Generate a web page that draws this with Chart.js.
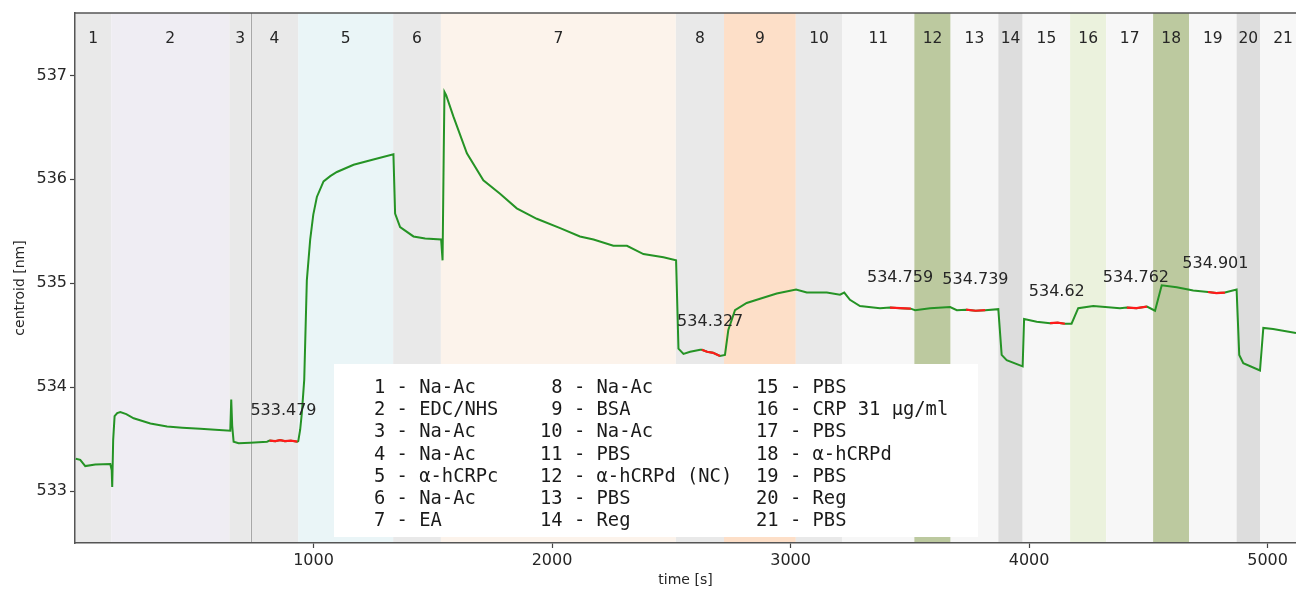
<!DOCTYPE html>
<html>
<head>
<meta charset="utf-8">
<script src="https://cdn.jsdelivr.net/npm/chart.js@4.4.1/dist/chart.umd.min.js"></script>
<style>
  body { margin: 0; background: #fff; }
  #wrap { width: 1296px; height: 589px; }
</style>
</head>
<body>
<div id="wrap"><canvas id="centroidChart"></canvas></div>
<script>
// measured centroid trace (time [s], centroid [nm])
var times = [3, 22, 43, 85, 148, 154, 156, 160, 166, 177, 190, 215, 246, 316, 386, 450, 525, 588, 651, 655, 659, 665, 686, 735, 805,
  816, 840, 860, 880, 905, 932, 936, 944, 951, 961, 972, 986, 999, 1014, 1042, 1070, 1098, 1168, 1251, 1335, 1342, 1363, 1419, 1468,
  1535, 1541, 1546, 1549, 1556, 1587, 1643, 1712, 1782, 1852, 1936, 2034, 2117, 2174, 2257, 2314, 2383, 2467, 2520, 2530, 2551, 2579,
  2621, 2628, 2650, 2675, 2704, 2725, 2739, 2767, 2816, 2872, 2942, 3023, 3068, 3152, 3207, 3225, 3249, 3291, 3375, 3417, 3460, 3504,
  3522, 3585, 3669, 3697, 3736, 3776, 3816, 3871, 3885, 3906, 3973, 3979, 4032, 4088, 4120, 4150, 4178, 4206, 4269, 4381, 4410, 4450,
  4494, 4528, 4556, 4619, 4688, 4750, 4785, 4821, 4870, 4881, 4898, 4968, 4982, 5023, 5119];
var centroid = [533.31, 533.30, 533.24, 533.255, 533.26, 533.20, 533.04, 533.49, 533.72, 533.75, 533.76, 533.74, 533.70, 533.65, 533.62,
  533.61, 533.60, 533.59, 533.58, 533.88, 533.63, 533.475, 533.46, 533.465, 533.475,
  533.485, 533.48, 533.49, 533.48, 533.485, 533.475, 533.48, 533.59, 533.75, 534.07, 535.03, 535.42, 535.66, 535.83, 535.98, 536.03,
  536.07, 536.14, 536.19, 536.24, 535.67, 535.54, 535.45, 535.43,
  535.42, 535.22, 536.28, 536.84, 536.81, 536.60, 536.25, 535.99, 535.86, 535.72, 535.62, 535.53, 535.45, 535.42, 535.36, 535.36,
  535.28, 535.25, 535.22, 534.37, 534.32, 534.34,
  534.36, 534.36, 534.34, 534.33, 534.30, 534.31, 534.55, 534.74, 534.81, 534.85, 534.90, 534.94, 534.91, 534.91, 534.89, 534.91,
  534.84, 534.78, 534.76, 534.765, 534.76, 534.755,
  534.74, 534.76, 534.77, 534.74, 534.745, 534.735, 534.74, 534.75, 534.31, 534.26, 534.20, 534.655, 534.63, 534.615, 534.62, 534.61,
  534.61, 534.76, 534.78, 534.76, 534.765, 534.76,
  534.775, 534.735, 534.98, 534.96, 534.93, 534.915, 534.905, 534.91, 534.94, 534.31, 534.23, 534.16, 534.57, 534.56, 534.52];

// averaging windows shown in red
var redRanges = [[816, 932], [2628, 2704], [3417, 3504], [3736, 3816], [4088, 4150], [4410, 4494], [4750, 4821]];

// annotated mean values
var annotTimes = [874, 2663, 3459, 3775, 4116, 4448, 4781];
var annotValues = [533.770, 534.629, 535.054, 535.035, 534.915, 535.054, 535.191];
var annotTexts = ['533.479', '534.327', '534.759', '534.739', '534.62', '534.762', '534.901'];

// injection steps
var stepStarts = [0, 152, 647, 737, 936, 1334, 1534, 2519, 2721, 3022, 3217, 3519, 3671, 3871, 3973, 4172, 4323, 4520, 4671, 4870, 4968];
var lastStepEnd = 5162;
var stepColors = ['#e9e9e9', '#efedf3', '#e9e9e9', '#e9e9e9', '#eaf5f7', '#e9e9e9', '#fcf3eb', '#e9e9e9', '#fddfc8', '#e9e9e9',
  '#f7f7f7', '#bcc99f', '#f7f7f7', '#dddddd', '#f7f7f7', '#ebf2dd', '#f7f7f7', '#bcc99f', '#f7f7f7', '#dddddd', '#f7f7f7'];
var stepLabels = ['1', '2', '3', '4', '5', '6', '7', '8', '9', '10', '11', '12', '13', '14', '15', '16', '17', '18', '19', '20', '21'];
var markerLine = 737;

var legendCol1 = ['1 - Na-Ac', '2 - EDC/NHS', '3 - Na-Ac', '4 - Na-Ac', '5 - α-hCRPc', '6 - Na-Ac', '7 - EA'];
var legendCol2 = [' 8 - Na-Ac', ' 9 - BSA', '10 - Na-Ac', '11 - PBS', '12 - α-hCRPd (NC)', '13 - PBS', '14 - Reg'];
var legendCol3 = ['15 - PBS', '16 - CRP 31 μg/ml', '17 - PBS', '18 - α-hCRPd', '19 - PBS', '20 - Reg', '21 - PBS'];

var xTicks = [1000, 2000, 3000, 4000, 5000];
var yTicks = [533, 534, 535, 536, 537];

// build datasets
var greenData = times.map(function (t, i) { return { x: t, y: centroid[i] }; });
var redData = [];
redRanges.forEach(function (r) {
  times.forEach(function (t, i) {
    if (t >= r[0] && t <= r[1]) redData.push({ x: t, y: centroid[i] });
  });
  redData.push({ x: r[1] + 1, y: null });
});

var textColor = '#262626';

var stepsPlugin = {
  id: 'steps',
  beforeDraw: function (chart) {
    var ctx = chart.ctx, a = chart.chartArea, xs = chart.scales.x;
    ctx.save();
    ctx.beginPath();
    ctx.rect(a.left, a.top, a.right - a.left, a.bottom - a.top);
    ctx.clip();
    for (var i = 0; i < stepStarts.length; i++) {
      var x0 = xs.getPixelForValue(stepStarts[i]);
      var x1 = xs.getPixelForValue(i + 1 < stepStarts.length ? stepStarts[i + 1] : lastStepEnd);
      ctx.fillStyle = stepColors[i];
      ctx.fillRect(x0, a.top, x1 - x0, a.bottom - a.top);
    }
    var xm = Math.round(xs.getPixelForValue(markerLine)) + 0.5;
    ctx.strokeStyle = '#a8a8a8';
    ctx.lineWidth = 1;
    ctx.beginPath();
    ctx.moveTo(xm, a.top);
    ctx.lineTo(xm, a.bottom);
    ctx.stroke();
    ctx.restore();

    ctx.save();
    ctx.fillStyle = textColor;
    ctx.font = '15.5px "DejaVu Sans"';
    ctx.textAlign = 'center';
    ctx.textBaseline = 'middle';
    for (var j = 0; j < stepStarts.length; j++) {
      var e = j + 1 < stepStarts.length ? stepStarts[j + 1] : lastStepEnd;
      ctx.fillText(stepLabels[j], xs.getPixelForValue((stepStarts[j] + e) / 2), 39);
    }
    ctx.restore();
  },
  afterDatasetsDraw: function (chart) {
    var ctx = chart.ctx, a = chart.chartArea, xs = chart.scales.x, ys = chart.scales.y;
    ctx.save();
    // mean value labels
    ctx.fillStyle = textColor;
    ctx.font = '16px "DejaVu Sans"';
    ctx.textAlign = 'center';
    ctx.textBaseline = 'middle';
    annotTexts.forEach(function (s, i) {
      ctx.fillText(s, xs.getPixelForValue(annotTimes[i]), ys.getPixelForValue(annotValues[i]));
    });
    // legend box
    ctx.fillStyle = '#ffffff';
    ctx.fillRect(334, 364, 644, 173);
    ctx.fillStyle = '#1a1a1a';
    ctx.font = '18.8px "DejaVu Sans Mono"';
    ctx.textAlign = 'left';
    var cols = [[legendCol1, 374], [legendCol2, 540], [legendCol3, 756]];
    cols.forEach(function (c) {
      c[0].forEach(function (s, i) {
        ctx.fillText(s, c[1], 388.5 + i * 22.05);
      });
    });
    // top spine
    ctx.strokeStyle = '#555';
    ctx.lineWidth = 1.5;
    ctx.beginPath();
    ctx.moveTo(a.left, a.top);
    ctx.lineTo(a.right, a.top);
    ctx.stroke();
    // axis titles
    ctx.fillStyle = textColor;
    ctx.font = '14px "DejaVu Sans"';
    ctx.textAlign = 'center';
    ctx.fillText('time [s]', (a.left + a.right) / 2, 580);
    ctx.translate(20, 288);
    ctx.rotate(-Math.PI / 2);
    ctx.fillText('centroid [nm]', 0, 0);
    ctx.restore();
  }
};

var ctx = document.getElementById('centroidChart').getContext('2d');
var chart = new Chart(ctx, {
  type: 'line',
  data: {
    datasets: [{
      data: greenData,
      borderColor: '#259325',
      borderWidth: 2,
      pointRadius: 0,
      tension: 0,
      order: 2
    }, {
      data: redData,
      borderColor: '#ff1a1a',
      borderWidth: 2.2,
      pointRadius: 0,
      tension: 0,
      spanGaps: false,
      order: 1
    }]
  },
  options: {
    responsive: true,
    maintainAspectRatio: false,
    animation: false,
    layout: { padding: { top: 13, right: 0, left: 0, bottom: 0 } },
    plugins: { legend: { display: false }, tooltip: { enabled: false } },
    scales: {
      x: {
        type: 'linear',
        min: 0,
        max: 5119,
        afterBuildTicks: function (scale) { scale.ticks = xTicks.map(function (v) { return { value: v }; }); },
        afterFit: function (scale) { scale.height = 46; },
        ticks: {
          callback: function (v) { return String(v); },
          font: { family: 'DejaVu Sans', size: 16 },
          color: textColor,
          padding: 3,
          maxRotation: 0
        },
        grid: { drawOnChartArea: false, drawTicks: true, tickLength: 5, color: '#444', tickWidth: 1.2 },
        border: { display: true, color: '#555', width: 1.5 }
      },
      y: {
        type: 'linear',
        min: 532.5,
        max: 537.6,
        afterBuildTicks: function (scale) { scale.ticks = yTicks.map(function (v) { return { value: v }; }); },
        afterFit: function (scale) { scale.width = 75; },
        ticks: {
          callback: function (v) { return String(v); },
          font: { family: 'DejaVu Sans', size: 16 },
          color: textColor,
          padding: 3
        },
        grid: { drawOnChartArea: false, drawTicks: true, tickLength: 5, color: '#444', tickWidth: 1.2 },
        border: { display: true, color: '#555', width: 1.5 }
      }
    }
  },
  plugins: [stepsPlugin]
});
</script>
</body>
</html>
